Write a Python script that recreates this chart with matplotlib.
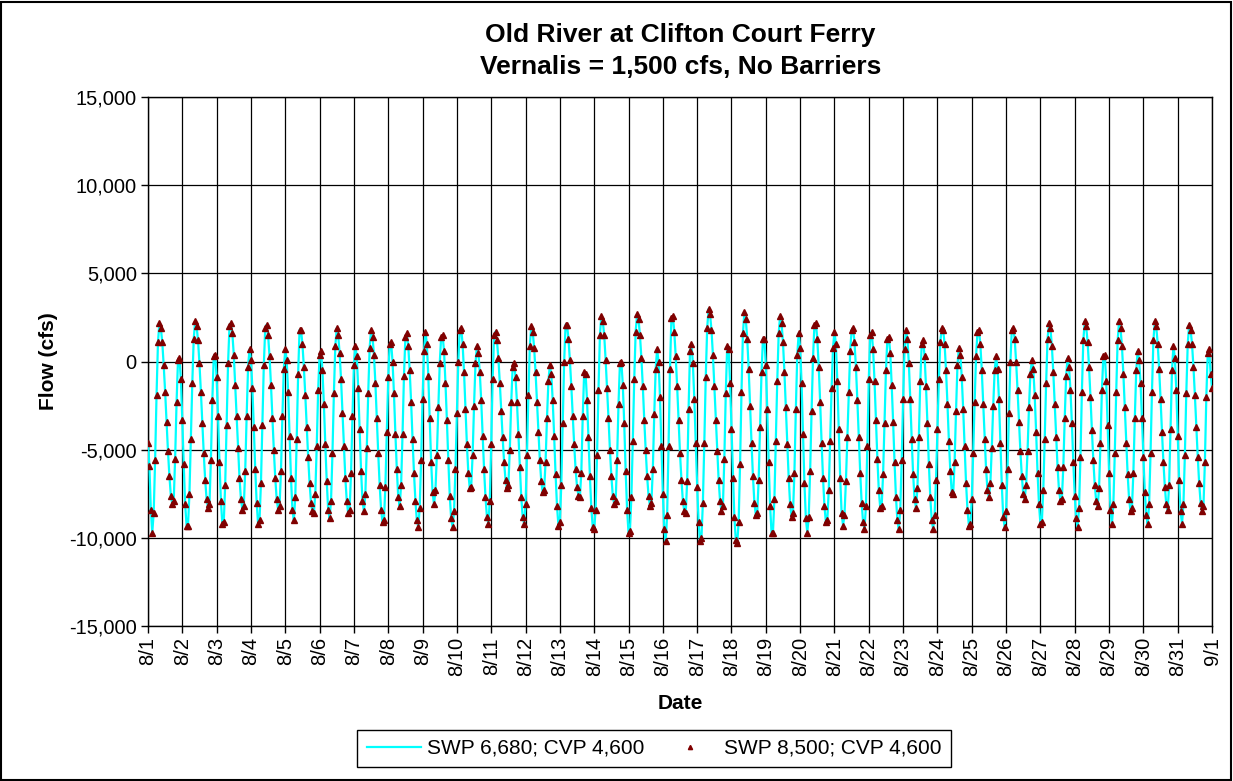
import matplotlib
matplotlib.use("Agg")
import matplotlib.pyplot as plt
import numpy as np
from matplotlib.patches import Rectangle
from matplotlib.ticker import StrMethodFormatter

plt.rcParams["font.family"] = ["Liberation Sans", "DejaVu Sans"]
plt.rcParams["axes.unicode_minus"] = False

HOURS_PER_DAY = 24
DAY_LABELS = [f"8/{d}" for d in range(1, 32)] + ["9/1"]
Y_TICKS = [-15000, -10000, -5000, 0, 5000, 10000, 15000]

# hourly flow (cfs), 8/1 00:00 through 9/1 00:00, one day per pair of rows
swp_6680 = [
    -4600, -5900, -8400, -9700, -8600, -5600, -1900, 1100, 2200, 1900, 1100, -200,
    -1700, -3400, -5100, -6500, -7600, -8100, -7900, -5500, -2300, 100, 200, -1000,
    -3300, -5800, -8100, -9300, -9300, -7500, -4400, -1200, 1300, 2300, 2000, 1200,
    -100, -1700, -3500, -5200, -6700, -7800, -8300, -8100, -5600, -2200, 300, 400,
    -900, -3100, -5700, -7900, -9200, -9100, -7000, -3600, -100, 2000, 2200, 1600,
    400, -1300, -3100, -4900, -6600, -7800, -8400, -8200, -6200, -3100, -300, 700,
    100, -1500, -3700, -6100, -8000, -9200, -9000, -6900, -3600, -200, 1900, 2100,
    1500, 300, -1300, -3200, -5000, -6600, -7800, -8400, -8200, -6200, -3100, -400,
    700, 100, -1700, -4200, -6600, -8400, -9000, -7700, -4400, -700, 1800, 1800,
    1000, -300, -1900, -3700, -5400, -6900, -8000, -8500, -8600, -7500, -4800, -1600,
    400, 600, -500, -2400, -4700, -6800, -8400, -8900, -7900, -5200, -1800, 900,
    1900, 1500, 500, -1000, -2900, -4800, -6600, -7900, -8600, -8400, -6300, -3100,
    -200, 900, 300, -1500, -3800, -6200, -7900, -8500, -7500, -4900, -1800, 800,
    1800, 1400, 400, -1200, -3200, -5200, -7000, -8400, -9100, -9000, -7100, -4000,
    -900, 1000, 1100, 0, -1800, -4100, -6100, -7700, -8200, -7000, -4100, -800,
    1400, 1600, 900, -500, -2300, -4400, -6300, -7900, -9000, -9400, -8300, -5600,
    -2100, 600, 1700, 1000, -800, -3200, -5700, -7400, -8100, -7300, -5300, -2600,
    -100, 1400, 1500, 600, -1200, -3300, -5600, -7600, -8900, -9400, -8500, -6100,
    -2900, 0, 1800, 1900, 1000, -600, -2700, -4700, -6300, -7200, -7100, -5300,
    -2500, -100, 900, 500, -600, -2200, -4200, -6100, -7700, -8800, -9200, -7900,
    -4700, -1000, 1500, 1700, 1200, 200, -1200, -2800, -4300, -5700, -6700, -7200,
    -7000, -5000, -2300, -300, -100, -900, -2300, -4100, -6000, -7700, -8800, -9200,
    -8100, -5300, -1900, 900, 2000, 1700, 800, -600, -2300, -4000, -5600, -6800,
    -7400, -7300, -5700, -3200, -1100, -200, -700, -2200, -4200, -6400, -8200, -9300,
    -9100, -7000, -3500, 0, 2100, 2100, 1300, 100, -1400, -3100, -4700, -6100,
    -7100, -7600, -7700, -6300, -3100, -600, -700, -2200, -4300, -6500, -8300, -9400,
    -9500, -8400, -5300, -1600, 1500, 2600, 2300, 1500, 100, -1500, -3200, -5000,
    -6500, -7600, -8100, -7900, -5600, -2400, -100, 0, -1300, -3500, -6200, -8400,
    -9700, -9600, -7700, -4500, -1000, 1700, 2700, 2400, 1500, 200, -1400, -3300,
    -5000, -6500, -7600, -8200, -8000, -6100, -3000, -400, 700, 0, -2000, -4800,
    -7500, -9500, -10200, -8700, -4800, -400, 2500, 2600, 1700, 300, -1400, -3300,
    -5200, -6700, -7900, -8500, -8600, -6800, -2700, 600, 1000, -100, -2100, -4600,
    -7100, -9100, -10200, -10000, -8000, -4600, -900, 1900, 3000, 2700, 1800, 400,
    -1400, -3300, -5100, -6700, -7900, -8500, -8200, -5500, -1800, 900, 700, -1200,
    -3800, -6600, -8800, -10100, -10300, -9100, -5800, -1700, 1600, 2800, 2400, 1300,
    -400, -2500, -4600, -6500, -8000, -8700, -8600, -6700, -3700, -600, 1300, 1300,
    -200, -2700, -5700, -8200, -9700, -9700, -7800, -4500, -1100, 1600, 2600, 2200,
    1100, -600, -2600, -4700, -6600, -8100, -8800, -8600, -6300, -2700, 400, 1600,
    800, -1200, -4100, -6900, -8900, -9700, -8800, -6200, -2800, 200, 2100, 2200,
    1300, -300, -2300, -4600, -6600, -8200, -9100, -9000, -7300, -4500, -1500, 800,
    1700, 1000, -1100, -3800, -6600, -8600, -9300, -8700, -6800, -4300, -1700, 600,
    1800, 1900, 1100, -300, -2200, -4300, -6300, -8000, -9100, -9500, -8200, -4800,
    -1000, 1500, 1700, 700, -1100, -3300, -5500, -7300, -8300, -8200, -6400, -3500,
    -500, 1300, 1400, 500, -1300, -3400, -5700, -7700, -9000, -9500, -8400, -5600,
    -2100, 700, 1800, 1300, -100, -2100, -4400, -6400, -7800, -8300, -7200, -4300,
    -1100, 1000, 1200, 300, -1400, -3500, -5800, -7700, -9000, -9500, -8700, -6700,
    -3800, -1000, 1100, 1900, 1800, 1000, -500, -2400, -4500, -6200, -7400, -7500,
    -5700, -2800, -200, 800, 400, -900, -2700, -4800, -6900, -8400, -9300, -9200,
    -7800, -5200, -2300, 300, 1700, 1800, 1000, -500, -2400, -4400, -6100, -7300,
    -7700, -6900, -4900, -2500, -500, 300, -400, -2100, -4600, -7000, -8800, -9400,
    -8500, -6100, -2900, 0, 1800, 1900, 1300, 0, -1600, -3400, -5100, -6500,
    -7500, -7800, -7000, -5100, -2600, -700, 100, -400, -1900, -4000, -6300, -8100,
    -9200, -9100, -7300, -4400, -1200, 1300, 2200, 1900, 900, -600, -2400, -4300,
    -6000, -7300, -7900, -7800, -6000, -3200, -800, 200, -300, -1600, -3500, -5700,
    -7600, -8900, -9400, -8300, -5400, -1700, 1200, 2300, 2000, 1100, -300, -2000,
    -3900, -5600, -7000, -7900, -8200, -7200, -4600, -1600, 300, 400, -1100, -3600,
    -6300, -8400, -9200, -8100, -5200, -1700, 1200, 2300, 1900, 900, -700, -2600,
    -4600, -6400, -7800, -8500, -8300, -6300, -3200, -500, 600, 100, -1200, -3200,
    -5400, -7400, -8700, -9200, -8100, -5200, -1700, 1200, 2300, 2000, 1000, -400,
    -2100, -4000, -5700, -7100, -8100, -8400, -7000, -3800, -500, 900, 200, -1600,
    -4200, -6700, -8500, -9200, -8100, -5300, -1800, 1000, 2100, 1800, 1000, -300,
    -1900, -3700, -5400, -6900, -8000, -8500, -8200, -5700, -2000, 500, 700, -700,
    -1500,
]

# the 8,500 cfs export run sits on top of the 6,680 run at this resolution
swp_8500 = list(swp_6680)

fig = plt.figure(figsize=(12.33, 7.81), dpi=100)
fig.patch.set_facecolor("white")
ax = fig.add_axes([0.120, 0.1985, 0.863, 0.677])

days = np.arange(len(swp_6680)) / HOURS_PER_DAY
ax.plot(days, swp_6680, color="#00FFFF", linewidth=1.6, zorder=3,
        label="SWP 6,680; CVP 4,600")
ax.plot(days, swp_8500, linestyle="none", marker="^", markersize=3.8,
        color="#800000", markeredgecolor="#800000", zorder=4,
        label="SWP 8,500; CVP 4,600")

ax.set_xlim(0, len(DAY_LABELS) - 1)
ax.set_ylim(Y_TICKS[0], Y_TICKS[-1])
ax.set_yticks(Y_TICKS)
ax.yaxis.set_major_formatter(StrMethodFormatter("{x:,.0f}"))
ax.set_xticks(range(len(DAY_LABELS)))
ax.set_xticklabels(DAY_LABELS, rotation=90)

ax.grid(True, color="black", linewidth=0.9)
ax.set_axisbelow(True)
ax.tick_params(direction="out", length=5, width=1, labelsize=14.5, pad=3,
               colors="black")
for spine in ax.spines.values():
    spine.set_color("black")
    spine.set_linewidth(1)

ax.set_xlabel("Date", fontsize=15, fontweight="bold", labelpad=13)
ax.set_ylabel("Flow (cfs)", fontsize=15, fontweight="bold", labelpad=8)

fig.text(0.552, 1 - 35 / 781, "Old River at Clifton Court Ferry",
         ha="center", va="center", fontsize=19, fontweight="bold")
fig.text(0.552, 1 - 67 / 781, "Vernalis = 1,500 cfs, No Barriers",
         ha="center", va="center", fontsize=19, fontweight="bold")

leg = fig.legend(loc="center", bbox_to_anchor=(0.5304, 1 - 748.5 / 781),
                 ncol=2, frameon=True, fancybox=False, edgecolor="black",
                 framealpha=1, fontsize=15, handlelength=2.6, markerscale=0.8,
                 columnspacing=0.9, handletextpad=0.3, borderpad=0.45)
leg.get_frame().set_linewidth(1)

fig.patches.append(Rectangle((0.001, 0.0015), 0.997, 0.996,
                             transform=fig.transFigure, fill=False,
                             edgecolor="black", linewidth=1.5))

fig.savefig("out.png", dpi=100)
